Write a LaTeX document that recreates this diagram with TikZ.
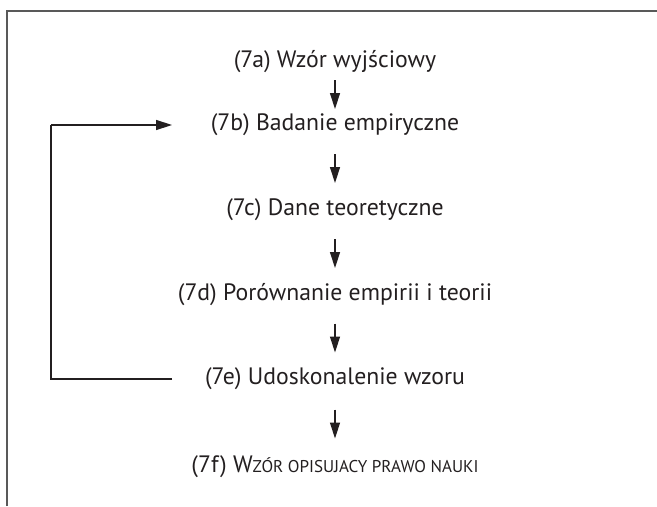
\documentclass[tikz,border=0pt]{standalone}
\usepackage{fontspec}
\setmainfont{PT Sans}
\usetikzlibrary{calc}
\usetikzlibrary{arrows.meta}
\definecolor{inkgray}{HTML}{231F20}

\begin{document}
\begin{tikzpicture}[
        step text/.style={inner sep=0pt, text=inkgray, font=\fontsize{13.5}{16}\selectfont},
        flow/.style={line width=0.8pt, inkgray, -{Triangle[length=0.32cm, width=0.2cm]}},
        loopline/.style={line width=0.8pt, inkgray}
    ]
        \useasboundingbox (0,0) rectangle (13.14,10.12);

        % frame (top and left only)
        \draw[line width=1.2pt, black!65] (0.14,0) -- (0.14,9.9) -- (13.14,9.9);

        % steps
        \node[step text] (a) at (6.7,8.88) {(7a) Wzór wyjściowy};
        \node[step text] (b) at (6.7,7.62) {(7b) Badanie empiryczne};
        \node[step text] (c) at (6.7,5.92) {(7c) Dane teoretyczne};
        \node[step text] (d) at (6.7,4.22) {(7d) Porównanie empirii i teorii};
        \node[step text] (e) at (6.7,2.54) {(7e) Udoskonalenie wzoru};
        \node[step text] (f) at (6.7,0.78) {(7f) W{\fontsize{9.7}{11}\selectfont ZÓR OPISUJACY PRAWO NAUKI}};

        % short arrows between the steps
        \foreach \u/\v in {a/b, b/c, c/d, d/e, e/f} {
            \draw[flow] ($(\u)!0.5!(\v)+(0,0.27)$) -- ++(0,-0.58);
        }

        % feedback loop from (7e) back to (7b)
        \coordinate (loopend) at (3.44,0);
        \coordinate (loopside) at (1.02,0);
        \draw[loopline] (e.west -| loopend) -- (e.west -| loopside) -- (b.west -| loopside);
        \draw[flow] (b.west -| loopside) -- (b.west -| loopend);

    \end{tikzpicture}
\end{document}
